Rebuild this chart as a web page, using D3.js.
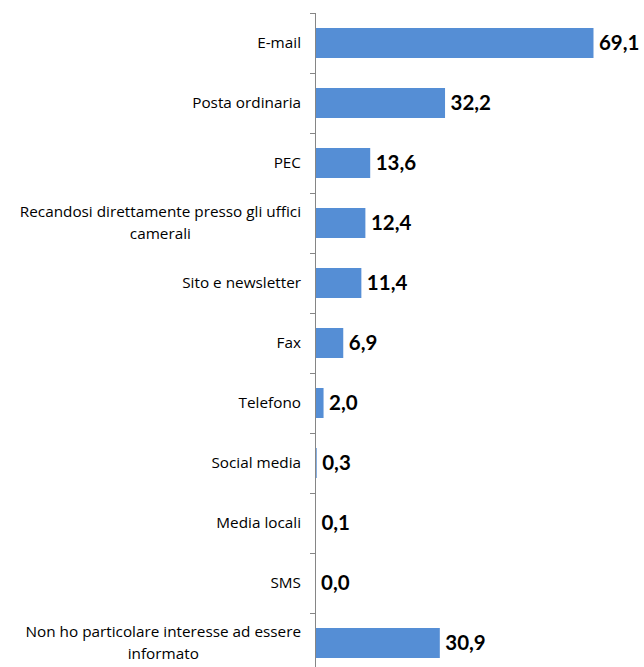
<!DOCTYPE html>
<html>
<head>
<meta charset="utf-8">
<script src="https://cdn.jsdelivr.net/npm/d3@7"></script>
<style>
  body { margin: 0; background: #fff; }
  svg { display: block; }
  .cat { font-family: "Open Sans", Lato, sans-serif; font-size: 15.3px; fill: #000; }
  .val { font-family: Lato, "Open Sans", sans-serif; font-size: 20.5px; font-weight: bold; fill: #000; }
</style>
</head>
<body>
<svg id="chart" width="644" height="667"></svg>
<script>
// categories and percentages, top to bottom
var categories = [
    ['E-mail'],
    ['Posta ordinaria'],
    ['PEC'],
    ['Recandosi direttamente presso gli uffici', 'camerali'],
    ['Sito e newsletter'],
    ['Fax'],
    ['Telefono'],
    ['Social media'],
    ['Media locali'],
    ['SMS'],
    ['Non ho particolare interesse ad essere', 'informato']
]
var values = [69.1, 32.2, 13.6, 12.4, 11.4, 6.9, 2.0, 0.3, 0.1, 0.0, 30.9]

var width = 644, height = 667
var x0 = 315

var svg = d3.select('#chart')

var y = d3.scaleBand()
    .domain(d3.range(categories.length))
    .range([13, 13 + 60 * categories.length])
    .paddingInner(0.5)
    .paddingOuter(0.25)

var x = d3.scaleLinear()
    .domain([0, 80])
    .range([x0 + 1, x0 + 1 + 80 * 4.023])

// bars
svg.append('g')
    .selectAll('rect')
    .data(values)
    .enter()
    .append('rect')
    .attr('x', x(0))
    .attr('y', (d, i) => y(i))
    .attr('width', d => Math.max(0, x(d) - x(0) - 0.5))
    .attr('height', y.bandwidth())
    .attr('fill', '#558ED5')

// axis line + tick marks between categories
var ax = svg.append('g').attr('stroke', '#868686').attr('stroke-width', 1)
ax.append('line')
    .attr('x1', x0 + 0.5).attr('x2', x0 + 0.5)
    .attr('y1', 13).attr('y2', height)
ax.selectAll('.tk')
    .data(d3.range(categories.length))
    .enter()
    .append('line')
    .attr('class', 'tk')
    .attr('x1', x0 - 5).attr('x2', x0 + 1)
    .attr('y1', i => Math.round(y(i) - y.step() * y.paddingInner() / 2) + 0.5)
    .attr('y2', i => Math.round(y(i) - y.step() * y.paddingInner() / 2) + 0.5)

// category labels (right aligned block, wrapped lines centered)
var labelRight = 301
var lh = 22
categories.forEach((lines, i) => {
    var cy = y(i) + y.bandwidth() / 2
    var top = cy - (lines.length - 1) * lh / 2
    var g = svg.append('g')
    var first = g.append('text')
        .attr('class', 'cat')
        .attr('x', labelRight)
        .attr('y', top)
        .attr('dy', '0.35em')
        .attr('text-anchor', 'end')
        .text(lines[0])
    if (lines.length > 1) {
        var w = first.node().getComputedTextLength()
        var mid = labelRight - w / 2
        lines.slice(1).forEach((t, k) => {
            g.append('text')
                .attr('class', 'cat')
                .attr('x', mid)
                .attr('y', top + (k + 1) * lh)
                .attr('dy', '0.35em')
                .attr('text-anchor', 'middle')
                .text(t)
        })
    }
})

// value labels
svg.append('g')
    .selectAll('text')
    .data(values)
    .enter()
    .append('text')
    .attr('class', 'val')
    .attr('x', d => x(d) + 5)
    .attr('y', (d, i) => y(i) + y.bandwidth() / 2)
    .attr('dy', '0.36em')
    .text(d => d3.format('.1f')(d).replace('.', ','))
</script>
</body>
</html>
